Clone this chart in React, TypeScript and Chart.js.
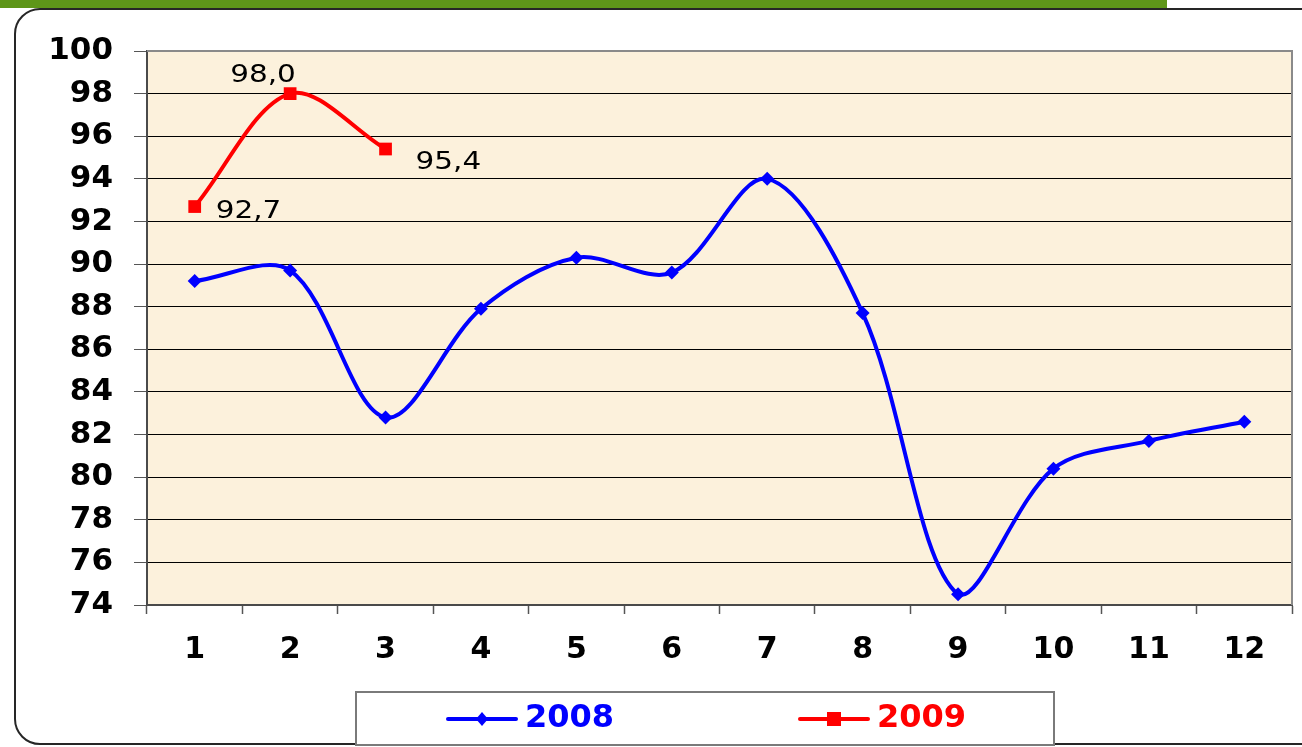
import React, { useEffect, useRef } from 'react';
import { Chart, registerables } from 'chart.js';

Chart.register(...registerables);

// ---- data ----
const categories = ['1', '2', '3', '4', '5', '6', '7', '8', '9', '10', '11', '12'];
const series2008 = [89.2, 89.7, 82.8, 87.9, 90.3, 89.6, 94.0, 87.7, 74.5, 80.4, 81.7, 82.6];
const series2009 = [92.7, 98.0, 95.4, null, null, null, null, null, null, null, null, null];
const seriesNames = ['2008', '2009'];
const yMin = 74;
const yMax = 100;
const yStep = 2;

// label offsets (pixels) for the 2009 data labels
const labelOffsets2009 = [
  { dx: 21, dy: 5 },
  { dx: -60, dy: -18 },
  { dx: 30, dy: 13 },
];

const fmt = (v: number) => v.toFixed(1).replace('.', ',');

const W = 1302;
const H = 747;

const decorPlugin = {
  id: 'decor',
  beforeDraw(chart: any) {
    const { ctx, chartArea } = chart;
    ctx.save();
    ctx.fillStyle = '#FCF1DC';
    ctx.fillRect(chartArea.left, chartArea.top, chartArea.right - chartArea.left, chartArea.bottom - chartArea.top);
    ctx.restore();
  },
  beforeDatasetsDraw(chart: any) {
    const { ctx, chartArea } = chart;
    ctx.save();
    ctx.strokeStyle = '#8a8a8a';
    ctx.lineWidth = 2;
    ctx.beginPath();
    ctx.moveTo(chartArea.left, chartArea.top);
    ctx.lineTo(chartArea.right, chartArea.top);
    ctx.lineTo(chartArea.right, chartArea.bottom);
    ctx.stroke();
    ctx.restore();
  },
  afterDraw(chart: any) {
    const ctx = chart.ctx;
    // data labels for 2009
    const meta = chart.getDatasetMeta(1);
    ctx.save();
    ctx.fillStyle = '#000';
    ctx.font = '25px "DejaVu Sans"';
    ctx.textBaseline = 'middle';
    ctx.textAlign = 'left';
    meta.data.forEach((pt: any, i: number) => {
      const v = series2009[i];
      if (v == null || !labelOffsets2009[i]) return;
      const o = labelOffsets2009[i];
      ctx.save();
      ctx.translate(pt.x + o.dx, pt.y + o.dy);
      ctx.scale(1.18, 1);
      ctx.fillText(fmt(v), 0, 0);
      ctx.restore();
    });
    ctx.restore();

    // legend box
    ctx.save();
    ctx.fillStyle = '#ffffff';
    ctx.fillRect(356, 692, 698, 53);
    ctx.strokeStyle = '#7a7a7a';
    ctx.lineWidth = 2;
    ctx.strokeRect(356, 692, 698, 53);
    const starts = [448, 800];
    const ly = 719;
    chart.data.datasets.forEach((ds: any, i: number) => {
      const x0 = starts[i];
      ctx.strokeStyle = ds.borderColor;
      ctx.lineWidth = 4;
      ctx.lineCap = 'round';
      ctx.beginPath();
      ctx.moveTo(x0, ly);
      ctx.lineTo(x0 + 68, ly);
      ctx.stroke();
      ctx.fillStyle = ds.borderColor;
      const cx = x0 + 34;
      if (ds.pointStyle === 'rectRot') {
        ctx.beginPath();
        ctx.moveTo(cx, ly - 7);
        ctx.lineTo(cx + 6, ly);
        ctx.lineTo(cx, ly + 7);
        ctx.lineTo(cx - 6, ly);
        ctx.closePath();
        ctx.fill();
      } else {
        ctx.fillRect(cx - 7, ly - 7, 14, 14);
      }
      ctx.font = 'bold 32px "DejaVu Sans"';
      ctx.textBaseline = 'middle';
      ctx.textAlign = 'left';
      ctx.fillText(ds.label, x0 + 77, ly);
    });
    ctx.restore();
  },
};

export default function App() {
  const ref = useRef<HTMLCanvasElement | null>(null);

  useEffect(() => {
    if (!ref.current) return;
    const chart = new Chart(ref.current, {
      type: 'line',
      data: {
        labels: categories,
        datasets: [
          {
            label: seriesNames[0],
            data: series2008,
            borderColor: '#0000FF',
            backgroundColor: '#0000FF',
            borderWidth: 4,
            pointStyle: 'rectRot',
            pointRadius: 7,
            pointBorderWidth: 0,
            tension: 0.33,
            fill: false,
          },
          {
            label: seriesNames[1],
            data: series2009,
            borderColor: '#FF0000',
            backgroundColor: '#FF0000',
            borderWidth: 4,
            pointStyle: 'rect',
            pointRadius: 9,
            pointBorderWidth: 0,
            tension: 0.33,
            fill: false,
          },
        ],
      },
      options: {
        animation: false,
        responsive: false,
        maintainAspectRatio: false,
        layout: { padding: { left: 0, top: 51, right: 10, bottom: 0 } },
        plugins: {
          legend: { display: false },
          tooltip: { enabled: false },
        },
        scales: {
          x: {
            type: 'category',
            offset: true,
            afterFit: (s: any) => {
              s.height = H - 605;
            },
            grid: {
              display: true,
              offset: true,
              drawOnChartArea: false,
              drawTicks: true,
              tickLength: 9,
              tickColor: '#555555',
              tickWidth: 1.5,
            },
            border: { display: true, color: '#4a4a4a', width: 2 },
            ticks: {
              color: '#000',
              padding: 18,
              font: { family: '"DejaVu Sans"', size: 30, weight: 'bold' },
              maxRotation: 0,
              autoSkip: false,
            },
          },
          y: {
            min: yMin,
            max: yMax,
            afterFit: (s: any) => {
              s.width = 147;
            },
            grid: {
              color: '#000000',
              lineWidth: 1,
              drawTicks: true,
              tickLength: 13,
              tickColor: '#555555',
            },
            border: { display: true, color: '#4a4a4a', width: 2 },
            ticks: {
              stepSize: yStep,
              color: '#000',
              padding: 21,
              font: { family: '"DejaVu Sans"', size: 31, weight: 'bold' },
            },
          },
        },
      },
      plugins: [decorPlugin],
    } as any);
    return () => chart.destroy();
  }, []);

  return (
    <div
      style={{
        position: 'fixed',
        left: 0,
        top: 0,
        width: W,
        height: H,
        overflow: 'hidden',
        background: '#ffffff',
      }}
    >
      <div
        style={{
          position: 'absolute',
          left: 14,
          top: 8,
          width: W + 10,
          height: 737,
          border: '2px solid #262626',
          borderRadius: 26,
          boxSizing: 'border-box',
        }}
      />
      <div
        style={{
          position: 'absolute',
          left: 0,
          top: 0,
          width: 1167,
          height: 8,
          background: '#5E9619',
        }}
      />
      <canvas ref={ref} width={W} height={H} style={{ position: 'absolute', left: 0, top: 0 }} />
    </div>
  );
}
